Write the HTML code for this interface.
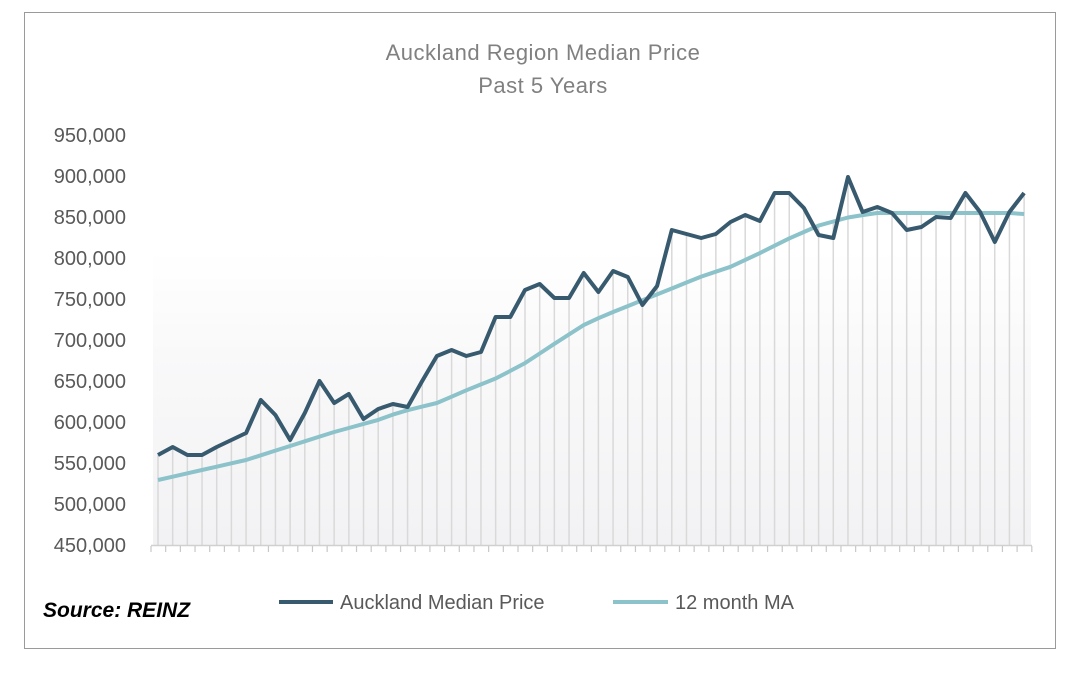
<!DOCTYPE html>
<html><head><meta charset="utf-8"><style>
body{margin:0;background:#fff;}
svg{display:block;font-family:"Liberation Sans",sans-serif;}
</style></head><body>
<svg width="1080" height="678" viewBox="0 0 1080 678" xmlns="http://www.w3.org/2000/svg">
<defs><linearGradient id="g" x1="0" y1="0" x2="0" y2="1">
<stop offset="0" stop-color="#ffffff"/><stop offset="0.35" stop-color="#f9f9fa"/><stop offset="1" stop-color="#f2f2f4"/></linearGradient></defs>
<rect x="0" y="0" width="1080" height="678" fill="#fff"/>
<rect x="24.5" y="12.5" width="1031" height="636" fill="#fff" stroke="#9a9a9a" stroke-width="1"/>
<rect x="153" y="250" width="878" height="295" fill="url(#g)"/>
<text x="543" y="60" text-anchor="middle" font-size="22" fill="#808080" letter-spacing="0.5">Auckland Region  Median Price</text>
<text x="543" y="93" text-anchor="middle" font-size="22" fill="#808080" letter-spacing="0.5">Past 5 Years</text>
<g font-size="20" fill="#595959" text-anchor="end">
<text x="126" y="142">950,000</text><text x="126" y="183">900,000</text><text x="126" y="224">850,000</text>
<text x="126" y="265">800,000</text><text x="126" y="306">750,000</text><text x="126" y="347">700,000</text>
<text x="126" y="388">650,000</text><text x="126" y="429">600,000</text><text x="126" y="470">550,000</text>
<text x="126" y="511">500,000</text><text x="126" y="552">450,000</text>
</g>
<g id="lines" stroke="#d9d9d9" stroke-width="1.5"></g>
<line x1="151" y1="545.5" x2="1032" y2="545.5" stroke="#d0d0d0" stroke-width="1.5"/>
<g id="ticks" stroke="#c8c8c8" stroke-width="1.2"></g>
<polyline id="ma" fill="none" stroke="#8cc2ca" stroke-width="4" stroke-linejoin="round"/>
<polyline id="mp" fill="none" stroke="#385a6e" stroke-width="4" stroke-linejoin="round"/>
<text x="43" y="617" font-size="21" font-weight="bold" font-style="italic" fill="#000">Source:  REINZ</text>
<line x1="279" y1="602" x2="333" y2="602" stroke="#385a6e" stroke-width="4"/>
<text x="340" y="609" font-size="20" fill="#595959">Auckland Median Price</text>
<line x1="613" y1="602" x2="668" y2="602" stroke="#8cc2ca" stroke-width="4"/>
<text x="675" y="609" font-size="20" fill="#595959">12 month MA</text>
</svg>
<script>
var mp=[455,447,455,455,447,440,433,400,415,440,413,381,403,394,419,409,404,407,381,356,350,356,352,317,317,290,284,298,298,273,292,271,277,305,286,230,234,238,234,222,215,221,193,193,208,235,238,177,212,207,213,230,227,217,218,193,212,242,212,193];
var K=[[158,480],[246,460],[290,446],[334,432],[378,420],[400,412],[437,403],[467,390],[497,378],[527,362],[557,342],[587,323],[613,312],[643,300],[673,288],[700,277],[730,267],[760,253],[790,238],[820,225],[850,217],[877,213],[1010,213],[1024,214]];
function X(i){return 158+14.68*i;}
function ma(x){for(var k=0;k<K.length-1;k++){if(x<=K[k+1][0]){var t=(x-K[k][0])/(K[k+1][0]-K[k][0]);return K[k][1]+t*(K[k+1][1]-K[k][1]);}}return K[K.length-1][1];}
var n=60;
var L=document.getElementById('lines'),T=document.getElementById('ticks'),ns="http://www.w3.org/2000/svg";
var p1=[],p2=[];
for(var i=0;i<n;i++){var x=X(i);var m=ma(x);
var l=document.createElementNS(ns,'line');l.setAttribute('x1',x);l.setAttribute('x2',x);l.setAttribute('y1',Math.min(mp[i],m));l.setAttribute('y2',545);L.appendChild(l);
p1.push(x.toFixed(1)+','+mp[i]);p2.push(x.toFixed(1)+','+m.toFixed(1));}
for(var j=0;j<=60;j++){var tx=151+14.68*j;var t=document.createElementNS(ns,'line');t.setAttribute('x1',tx);t.setAttribute('x2',tx);t.setAttribute('y1',546);t.setAttribute('y2',552);T.appendChild(t);}
document.getElementById('mp').setAttribute('points',p1.join(' '));
document.getElementById('ma').setAttribute('points',p2.join(' '));
</script>
</body></html>
